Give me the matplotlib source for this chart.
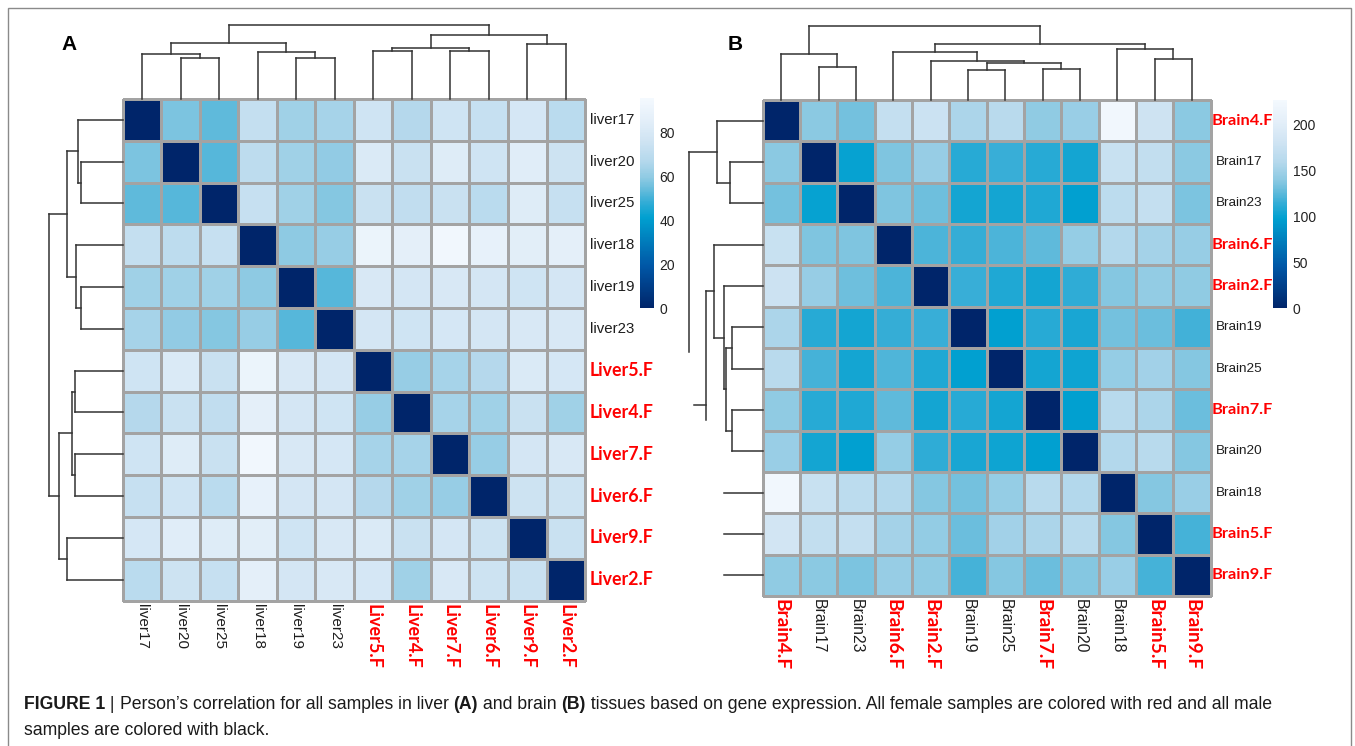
import matplotlib
matplotlib.use('Agg')
import matplotlib.pyplot as plt
import numpy as np
from matplotlib.colors import LinearSegmentedColormap, Normalize
from matplotlib.cm import ScalarMappable
from matplotlib.patches import Rectangle

# ---------------- data ----------------
liver_labels = ['liver17', 'liver20', 'liver25', 'liver18', 'liver19', 'liver23',
                'Liver5.F', 'Liver4.F', 'Liver7.F', 'Liver6.F', 'Liver9.F', 'Liver2.F']
liver_values = [
    [0, 57, 53, 72, 63, 64, 76, 67, 76, 73, 79, 69],
    [57, 0, 52, 70, 63, 60, 81, 74, 83, 76, 84, 75],
    [53, 52, 0, 73, 63, 58, 74, 71, 74, 69, 83, 73],
    [72, 70, 73, 0, 59, 61, 90, 86, 94, 88, 85, 86],
    [63, 63, 63, 59, 0, 52, 80, 78, 80, 78, 76, 78],
    [64, 60, 58, 61, 52, 0, 78, 76, 79, 78, 80, 80],
    [76, 81, 74, 90, 80, 78, 0, 61, 64, 67, 81, 79],
    [67, 74, 71, 86, 78, 76, 61, 0, 64, 63, 74, 63],
    [76, 83, 74, 94, 80, 79, 64, 64, 0, 61, 78, 80],
    [73, 76, 69, 88, 78, 78, 67, 63, 61, 0, 75, 75],
    [79, 84, 83, 85, 76, 80, 81, 74, 78, 75, 0, 74],
    [69, 75, 73, 86, 78, 80, 79, 63, 80, 75, 74, 0],
]
liver_vmax = 95.5
liver_cbar_ticks = [0, 20, 40, 60, 80]
# hierarchical clustering (left id, right id, relative height); nodes numbered from 12
liver_links = [
    (1, 2, 0.56), (0, 12, 0.61), (4, 5, 0.56), (3, 14, 0.64), (13, 15, 0.76),
    (6, 7, 0.645), (8, 9, 0.645), (17, 18, 0.69), (10, 11, 0.75), (19, 20, 0.86),
    (16, 21, 1.0),
]

brain_labels = ['Brain4.F', 'Brain17', 'Brain23', 'Brain6.F', 'Brain2.F', 'Brain19',
                'Brain25', 'Brain7.F', 'Brain20', 'Brain18', 'Brain5.F', 'Brain9.F']
brain_values = [
    [0, 140, 133, 172, 177, 155, 163, 141, 146, 222, 180, 140],
    [140, 0, 100, 136, 145, 110, 116, 110, 104, 175, 170, 140],
    [133, 100, 0, 136, 131, 104, 104, 108, 98, 165, 172, 135],
    [175, 136, 136, 0, 121, 115, 121, 126, 144, 158, 151, 145],
    [178, 145, 131, 121, 0, 116, 108, 104, 113, 138, 143, 141],
    [155, 110, 104, 115, 116, 0, 98, 110, 106, 133, 130, 118],
    [163, 119, 104, 122, 108, 98, 0, 104, 102, 144, 150, 138],
    [141, 110, 108, 126, 104, 110, 104, 0, 98, 162, 155, 130],
    [146, 104, 98, 144, 113, 106, 102, 98, 0, 158, 162, 138],
    [222, 175, 165, 158, 138, 133, 144, 162, 158, 0, 138, 146],
    [183, 170, 172, 151, 143, 130, 150, 155, 162, 138, 0, 119],
    [141, 140, 135, 145, 141, 119, 138, 130, 138, 146, 119, 0],
]
brain_vmax = 227
brain_cbar_ticks = [0, 50, 100, 150, 200]
brain_links = [
    (1, 2, 0.44), (0, 12, 0.617), (5, 6, 0.412), (7, 8, 0.415), (14, 15, 0.495),
    (4, 16, 0.53), (3, 17, 0.655), (10, 11, 0.55), (9, 19, 0.685), (18, 20, 0.757),
    (13, 21, 1.0),
]
# the row dendrogram of panel B is only partly rendered in the source figure
brain_row_links_drawn = 7
brain_row_fragments = [  # ((height, position), (height, position))
    ((0.617, 1.25), (1.0, 1.25)),
    ((1.0, 1.25), (1.0, 6.1)),
    ((0.655, 4.625), (0.763, 4.625)),
    ((0.763, 4.625), (0.763, 7.75)),
    ((0.763, 7.38), (0.936, 7.38)),
    ((0.0, 9.5), (0.52, 9.5)),
    ((0.0, 10.5), (0.52, 10.5)),
    ((0.0, 11.5), (0.52, 11.5)),
]

caption_line1 = [("FIGURE 1", 'bold'), (" | ", 'normal'),
                 ("Person\u2019s correlation for all samples in liver ", 'normal'),
                 ("(A)", 'bold'), (" and brain ", 'normal'), ("(B)", 'bold'),
                 (" tissues based on gene expression. All female samples are colored with red and all male", 'normal')]
caption_line2 = [("samples are colored with black.", 'normal')]

# ---------------- style ----------------
cmap = LinearSegmentedColormap.from_list('pb', [
    (0.00, '#00256a'), (0.20, '#0057a6'), (0.43, '#00a0d0'), (0.50, '#30acd6'),
    (0.56, '#62bbdb'), (0.62, '#8ecae3'), (0.70, '#b4d8ec'), (0.80, '#d0e4f3'),
    (0.90, '#e4eff9'), (1.00, '#f4f9fe')], N=256)
RED = '#fe0000'
BLACK_LAB = '#1e1e1e'
LINE = '#333333'
SANS = ['Liberation Sans', 'DejaVu Sans']
RED_FONT = ['Lato', 'DejaVu Sans']

W, H = 1355, 746
fig = plt.figure(figsize=(W / 100, H / 100), dpi=100)
fig.patch.set_facecolor('white')


def px_axes(x0, y0, x1, y1):
    ax = fig.add_axes([x0 / W, 1 - y1 / H, (x1 - x0) / W, (y1 - y0) / H])
    ax.set_facecolor('none')
    return ax


def link_segments(links, n, count=None):
    pos = {i: i + 0.5 for i in range(n)}
    hgt = {i: 0.0 for i in range(n)}
    segs = []
    for k, (a, b, h) in enumerate(links):
        pa, pb = pos[a], pos[b]
        if count is None or k < count:
            segs.append(((hgt[a], pa), (h, pa)))
            segs.append(((hgt[b], pb), (h, pb)))
            segs.append(((h, pa), (h, pb)))
        pos[n + k] = (pa + pb) / 2
        hgt[n + k] = h
    return segs


def draw_top_dendro(ax, segs):
    for (h0, p0), (h1, p1) in segs:
        ax.plot([p0, p1], [h0, h1], color=LINE, lw=1.1, solid_capstyle='projecting', clip_on=False)
    ax.set_xlim(0, 12)
    ax.set_ylim(0, 1)
    ax.axis('off')


def draw_left_dendro(ax, segs):
    for (h0, p0), (h1, p1) in segs:
        ax.plot([h0, h1], [p0, p1], color=LINE, lw=1.1, solid_capstyle='projecting', clip_on=False)
    ax.set_xlim(1, 0)
    ax.set_ylim(12, 0)
    ax.axis('off')


def style_labels(labels, black_size, red_size):
    for lab in labels:
        if lab.get_text().endswith('.F'):
            lab.set_color(RED)
            lab.set_fontfamily(RED_FONT)
            lab.set_fontweight('bold')
            lab.set_fontsize(red_size)
        else:
            lab.set_color(BLACK_LAB)
            lab.set_fontfamily(SANS)
            lab.set_fontsize(black_size)


def draw_heatmap(ax, values, vmax, labels, right_sizes, bottom_sizes, red_pad):
    m = np.array(values, dtype=float)
    qm = ax.pcolormesh(m, cmap=cmap, vmin=0, vmax=vmax, edgecolors='#a3a3a3', linewidth=0.9)
    qm.set_clip_on(False)
    ax.set_xlim(0, 12)
    ax.set_ylim(12, 0)
    for s in ax.spines.values():
        s.set_visible(False)
    ax.set_xticks(np.arange(12) + 0.5)
    ax.set_yticks(np.arange(12) + 0.5)
    ax.set_xticklabels(labels, rotation=270, ha='center', va='top')
    ax.set_yticklabels(labels, va='center', ha='left')
    ax.yaxis.tick_right()
    ax.tick_params(axis='x', length=0, pad=2.5)
    ax.tick_params(axis='y', length=0, pad=3.5)
    style_labels(ax.get_xticklabels(), *bottom_sizes)
    style_labels(ax.get_yticklabels(), *right_sizes)
    if red_pad is not None:
        for tick in ax.yaxis.get_major_ticks():
            if tick.label2.get_text().endswith('.F'):
                tick.set_pad(red_pad)


def draw_cbar(cax, vmax, ticks, size):
    sm = ScalarMappable(norm=Normalize(0, vmax), cmap=cmap)
    cb = fig.colorbar(sm, cax=cax, ticks=ticks)
    cb.outline.set_visible(False)
    cax.tick_params(length=0, pad=4, labelsize=size, labelcolor='#222222')
    for t in cax.get_yticklabels():
        t.set_fontfamily(SANS)


# ---------------- panel A ----------------
hA = px_axes(122.7, 99, 585.1, 600.5)
draw_heatmap(hA, liver_values, liver_vmax, liver_labels, (10.8, 12.8), (11, 13), None)
draw_top_dendro(px_axes(122.7, 25, 585.1, 99), link_segments(liver_links, 12))
draw_left_dendro(px_axes(49, 99, 122.7, 600.5), link_segments(liver_links, 12))
draw_cbar(px_axes(640, 98, 654, 308), liver_vmax, liver_cbar_ticks, 10)
fig.text(69 / W, 1 - 45 / H, 'A', fontsize=15, fontweight='bold', family=SANS, ha='center', va='center')

# ---------------- panel B ----------------
hB = px_axes(762.7, 100, 1210.7, 596)
draw_heatmap(hB, brain_values, brain_vmax, brain_labels, (9.7, 11.8), (11.3, 13.8), 0.8)
draw_top_dendro(px_axes(762.7, 26, 1210.7, 100), link_segments(brain_links, 12))
draw_left_dendro(px_axes(689, 100, 762.7, 596),
                 link_segments(brain_links, 12, brain_row_links_drawn) + brain_row_fragments)
draw_cbar(px_axes(1273, 100, 1287, 308), brain_vmax, brain_cbar_ticks, 10)
fig.text(735 / W, 1 - 45 / H, 'B', fontsize=15, fontweight='bold', family=SANS, ha='center', va='center')

# ---------------- frame and caption ----------------
fig.add_artist(Rectangle((8 / W, -0.05), (1351 - 8) / W, 1.05 - 8 / H, transform=fig.transFigure,
                         fill=False, edgecolor='#8a8a8a', lw=1.0))

renderer = fig.canvas.get_renderer()


def runs_width(runs, fs):
    w = 0
    for txt, wt in runs:
        t = fig.text(0, 0, txt, fontsize=fs, fontweight=wt, family=SANS)
        w += t.get_window_extent(renderer=renderer).width
        t.remove()
    return w


def draw_runs(runs, x, y, fs):
    for txt, wt in runs:
        t = fig.text(x / W, 1 - y / H, txt, fontsize=fs, fontweight=wt, family=SANS,
                     ha='left', va='baseline', color='#1a1a1a')
        x += t.get_window_extent(renderer=renderer).width


cap_fs = 12 * 1257 / runs_width(caption_line1, 12)
draw_runs(caption_line1, 24, 709, cap_fs)
draw_runs(caption_line2, 24, 735, cap_fs)

fig.savefig('out.png', dpi=100, facecolor='white')
